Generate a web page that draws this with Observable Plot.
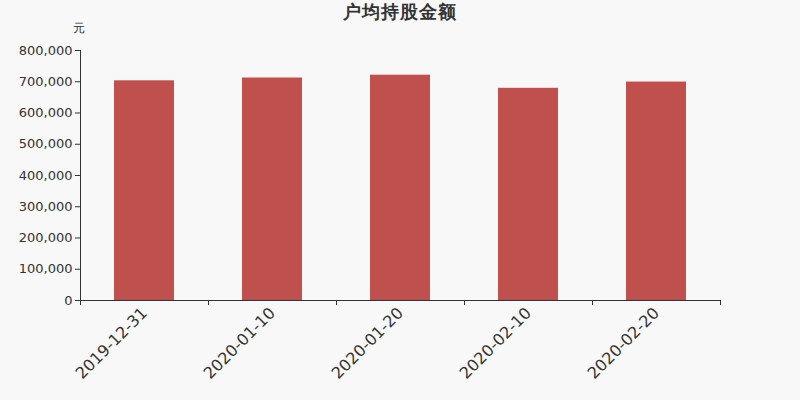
<!DOCTYPE html>
<html><head><meta charset="utf-8">
<script src="https://cdn.jsdelivr.net/npm/d3@7"></script>
<script src="https://cdn.jsdelivr.net/npm/@observablehq/plot@0.6"></script>
<style>
body{margin:0;background:#f8f8f8;font-family:"DejaVu Sans",sans-serif;}
#wrap{position:relative;width:800px;height:400px;}
#title{position:absolute;top:0px;left:0;width:800px;text-align:center;font-size:18px;font-weight:bold;color:#333;letter-spacing:1px;}
#unit{position:absolute;top:20px;left:73px;font-size:12px;color:#333;}
</style></head>
<body><div id="wrap"><div id="title">户均持股金额</div><div id="unit">元</div></div>
<script>
const categories = ["2019-12-31","2020-01-10","2020-01-20","2020-02-10","2020-02-20"];
const values = [703000, 712000, 721000, 679000, 699000];
const yTicks = [0,100000,200000,300000,400000,500000,600000,700000,800000];
const data = categories.map((c,i)=>({date:c, value:values[i]}));
const W = 800, H = 400, mL = 80, mR = 80;
const step = (W - mL - mR) / categories.length;
const chart = Plot.plot({
  width: W, height: H,
  marginLeft: mL, marginRight: mR, marginTop: 50, marginBottom: 100,
  style: {background: "transparent", fontFamily: "DejaVu Sans, sans-serif", color: "#333"},
  x: {type: "band", domain: categories, padding: 0, label: null},
  y: {domain: [0, 800000], label: null},
  marks: [
    Plot.barY(data, {x: "date", y: "value", fill: "#c0504d", insetLeft: 34, insetRight: 34}),
    Plot.axisY({ticks: yTicks, tickFormat: d3.format(","), tickSize: 5, tickPadding: 3, fontSize: 13, label: null, stroke: "#333", strokeOpacity: 1}),
    Plot.frame({anchor: "left", stroke: "#333"}),
    Plot.ruleY([0], {stroke: "#333"}),
    Plot.ruleX(categories, {x: d => d, dx: -step/2, y1: 0, y2: 0, insetBottom: -5, stroke: "#333"}),
    Plot.ruleX(categories.slice(-1), {x: d => d, dx: step/2, y1: 0, y2: 0, insetBottom: -5, stroke: "#333"}),
    Plot.axisX({tickSize: 0, tickRotate: -45, fontSize: 16, tickPadding: 10, label: null, textAnchor: "end"})
  ]
});
document.getElementById("wrap").appendChild(chart);
</script></body></html>
